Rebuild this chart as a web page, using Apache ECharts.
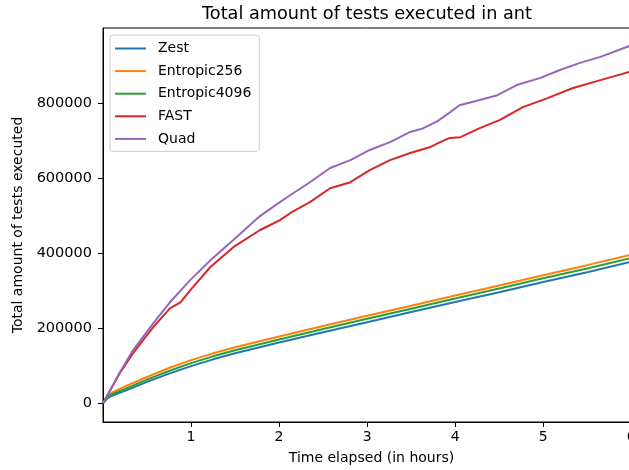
<!DOCTYPE html>
<html>
<head>
<meta charset="utf-8">
<title>Total amount of tests executed in ant</title>
<script src="https://cdn.jsdelivr.net/npm/echarts@6/dist/echarts.min.js"></script>
<style>
	html, body { margin: 0; padding: 0; background: #fff; overflow: hidden; }
	#chart { width: 629px; height: 470px; }
</style>
</head>
<body>
<div id="chart"></div>
<script>
// hours for the three slower fuzzers
var baseHours = [0, 0.05, 0.1, 0.25, 0.5, 0.75, 1, 1.25, 1.5, 2, 2.5, 3, 3.5, 4, 4.5, 5, 5.5, 6];
var zestTests = [0, 13000, 20000, 33000, 57000, 79000, 99000, 117000, 133000, 162000, 189000, 216000, 243000, 270000, 296000, 323000, 349000, 377000];
var entropic256Tests = [0, 17000, 28000, 45000, 70000, 94000, 115000, 133000, 149000, 178000, 206000, 233000, 260000, 287000, 314000, 341000, 368000, 396000];
var entropic4096Tests = [0, 15000, 24000, 38000, 63000, 86000, 107000, 125000, 141000, 170000, 198000, 225000, 252000, 279000, 306000, 333000, 359000, 387000];

var fastHours = [0, 0.19, 0.34, 0.57, 0.76, 0.88, 0.99, 1.22, 1.48, 1.78, 1.90, 2.01, 2.13, 2.35, 2.58, 2.81, 3.03, 3.26, 3.49, 3.72, 3.83, 3.94, 4.06, 4.28, 4.51, 4.77, 5.05, 5.34, 5.65, 5.98];
var fastTests = [0, 80000, 133000, 203000, 253000, 269000, 301000, 363000, 416000, 461000, 475000, 488000, 507000, 536000, 573000, 589000, 621000, 648000, 667000, 683000, 696000, 707000, 709000, 733000, 755000, 789000, 813000, 840000, 861000, 883000];

var quadHours = [0, 0.10, 0.19, 0.34, 0.57, 0.76, 0.99, 1.22, 1.48, 1.78, 1.90, 2.01, 2.13, 2.35, 2.58, 2.81, 3.03, 3.26, 3.49, 3.64, 3.80, 3.94, 4.05, 4.28, 4.48, 4.70, 4.97, 5.19, 5.42, 5.65, 5.98];
var quadTests = [0, 43000, 82000, 141000, 213000, 269000, 328000, 381000, 435000, 498000, 518000, 536000, 555000, 589000, 627000, 648000, 675000, 696000, 723000, 733000, 752000, 775000, 794000, 808000, 821000, 848000, 867000, 888000, 907000, 923000, 952000];

var xTicks = [1, 2, 3, 4, 5, 6];
var yTicks = [0, 200000, 400000, 600000, 800000];

var FONT = 'DejaVu Sans';

function pairs(xs, ys) {
	var out = [];
	for (var i = 0; i < xs.length; i++) {
		out.push([xs[i], ys[i]]);
	}
	return out;
}

function lineSeries(name, color, xs, ys) {
	return {
		name: name,
		type: 'line',
		showSymbol: false,
		symbol: 'none',
		color: color,
		lineStyle: { color: color, width: 2 },
		data: pairs(xs, ys)
	};
}

var myChart = echarts.init(document.getElementById('chart'), null, { renderer: 'canvas' });
myChart.setOption({
	animation: false,
	backgroundColor: '#ffffff',
	title: {
		text: 'Total amount of tests executed in ant',
		left: 362,
		textAlign: 'center',
		top: 0,
		textStyle: { fontFamily: FONT, fontSize: 17.7, fontWeight: 'normal', color: '#000' }
	},
	legend: {
		orient: 'vertical',
		left: 110,
		top: 35,
		padding: [5, 8, 4, 5],
		itemGap: 5.6,
		itemWidth: 31,
		itemHeight: 2,
		icon: 'rect',
		backgroundColor: 'rgba(255,255,255,0.8)',
		borderColor: '#cccccc',
		borderWidth: 1,
		borderRadius: 3,
		textStyle: { fontFamily: FONT, fontSize: 14, color: '#000', padding: [0, 0, 0, 7], lineHeight: 17 },
		data: ['Zest', 'Entropic256', 'Entropic4096', 'FAST', 'Quad']
	},
	grid: {
		left: 103,
		width: 537,
		top: 28,
		bottom: 48,
		outerBoundsMode: 'none',
		show: true,
		borderColor: '#000',
		borderWidth: 1
	},
	xAxis: {
		type: 'value',
		min: 0,
		max: 6.1,
		name: 'Time elapsed (in hours)',
		nameLocation: 'middle',
		nameGap: 29,
		nameTextStyle: { fontFamily: FONT, fontSize: 14, color: '#000' },
		splitLine: { show: false },
		axisLine: { show: true, onZero: false, lineStyle: { color: '#000', width: 1 } },
		axisTick: { show: true, length: 5, lineStyle: { color: '#000' }, customValues: xTicks },
		axisLabel: {
			fontFamily: FONT, fontSize: 14, color: '#000', margin: 8,
			customValues: xTicks,
			formatter: function (v) { return String(v); }
		}
	},
	yAxis: {
		type: 'value',
		min: -50000,
		max: 1000000,
		name: 'Total amount of tests executed',
		nameLocation: 'middle',
		nameRotate: 90,
		nameGap: 75,
		nameTextStyle: { fontFamily: FONT, fontSize: 14, color: '#000' },
		splitLine: { show: false },
		axisLine: { show: true, onZero: false, lineStyle: { color: '#000', width: 1 } },
		axisTick: { show: true, length: 5, lineStyle: { color: '#000' }, customValues: yTicks },
		axisLabel: {
			fontFamily: FONT, fontSize: 14.5, color: '#000', margin: 11,
			customValues: yTicks,
			formatter: function (v) { return String(v); }
		}
	},
	series: [
		lineSeries('Zest', '#1f77b4', baseHours, zestTests),
		lineSeries('Entropic256', '#ff7f0e', baseHours, entropic256Tests),
		lineSeries('Entropic4096', '#2ca02c', baseHours, entropic4096Tests),
		lineSeries('FAST', '#d62728', fastHours, fastTests),
		lineSeries('Quad', '#9467bd', quadHours, quadTests)
	]
});
</script>
</body>
</html>
